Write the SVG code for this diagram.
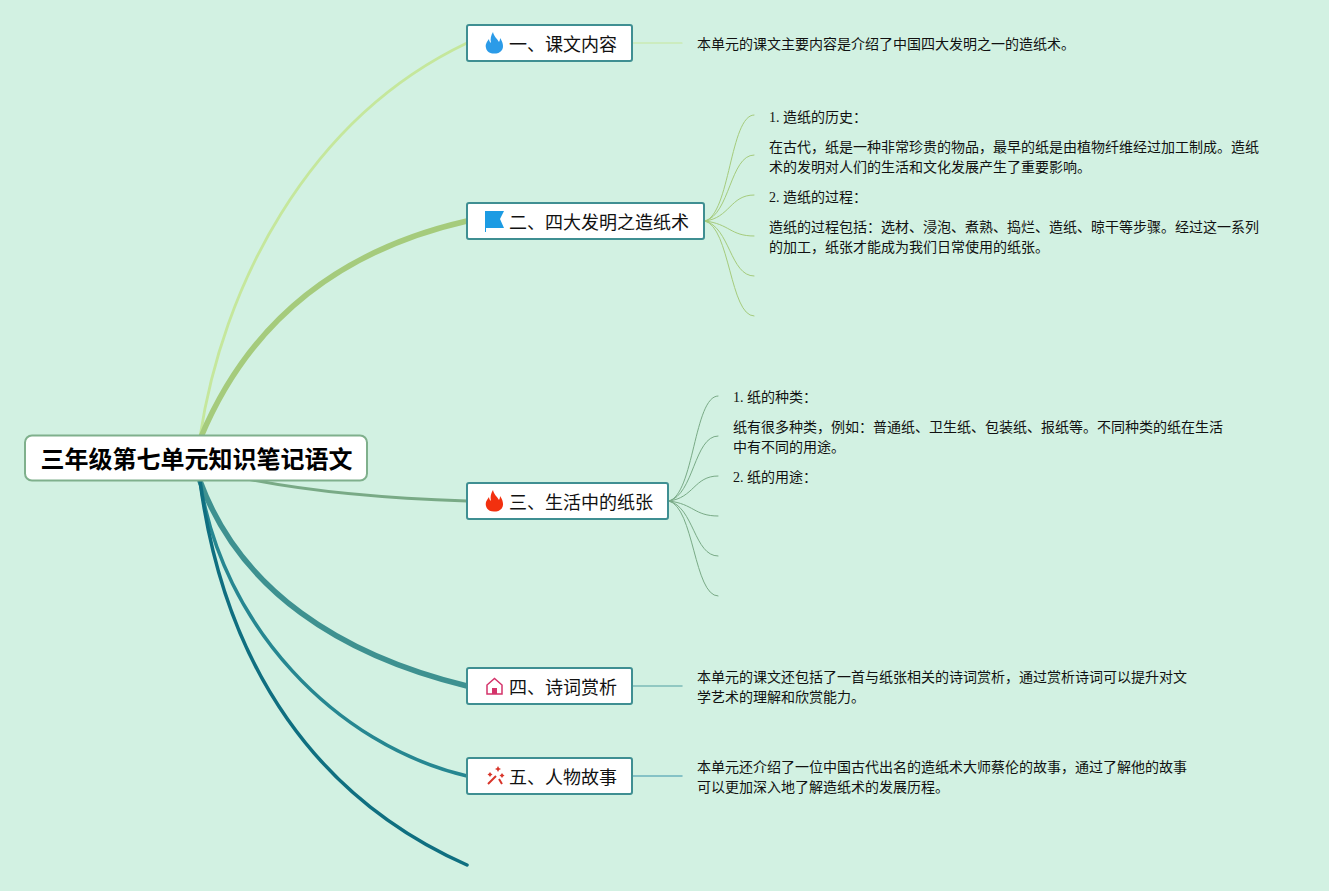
<svg xmlns="http://www.w3.org/2000/svg" width="1329" height="891" viewBox="0 0 1329 891">
<style>
text{font-family:"Liberation Serif","Noto Sans CJK SC",serif;fill:#111}
.b{font-size:14px}
.t{font-size:18px}
.r{font-size:24px;font-weight:700;fill:#000;font-family:"Liberation Sans","Noto Sans CJK SC",sans-serif}
.n{fill:#fff;stroke:#3f8f92;stroke-width:2}
.c{fill:none;stroke-linecap:round}
</style>
<rect width="1329" height="891" fill="#d2f1e2"/>
<g id="connectors" class="c">
<path d="M200 437C222 290 305 120 467 43" stroke="#c5e79c" stroke-width="2.800"/>
<path d="M201 437C250 320 340 250 467 221" stroke="#a5cb7c" stroke-width="5.500"/>
<path d="M220 473C290 490 370 498 467 501" stroke="#79aa86" stroke-width="3"/>
<path d="M200 481C240 590 340 655 467 686" stroke="#3e9190" stroke-width="5.500"/>
<path d="M200 481C222 625 335 745 467 776" stroke="#268791" stroke-width="3.500"/>
<path d="M200 481C225 670 320 800 467 865" stroke="#0f6f80" stroke-width="3.500"/>
<path d="M633 43H682" stroke="#c5e79c" stroke-width="1.200"/>
<path d="M633 686H682" stroke="#7cbab8" stroke-width="1.500"/>
<path d="M633 776H682" stroke="#6cb2bd" stroke-width="1.500"/>
<g stroke="#a5cb7c" stroke-width="1">
<path d="M705 221C730 215 730 115 754 115"/>
<path d="M705 221C730 215 730 155 754 155"/>
<path d="M705 221C730 218 730 195 754 195"/>
<path d="M705 221C730 224 730 236 754 236"/>
<path d="M705 221C730 227 730 276 754 276"/>
<path d="M705 221C730 227 730 316 754 316"/>
</g>
<g stroke="#79aa86" stroke-width="1">
<path d="M669 501C694 495 694 396 718 396"/>
<path d="M669 501C694 495 694 436 718 436"/>
<path d="M669 501C694 498 694 476 718 476"/>
<path d="M669 501C694 504 694 516 718 516"/>
<path d="M669 501C694 507 694 556 718 556"/>
<path d="M669 501C694 507 694 596 718 596"/>
</g>
</g>
<g id="root"><rect x="25" y="435.500" width="342" height="45" rx="7" fill="#fff" stroke="#7fb08c" stroke-width="2"/><text class="r" x="40.500" y="468">三年级第七单元知识笔记语文</text></g>
<g id="n1"><rect class="n" x="467" y="25" width="165" height="36" rx="2"/>
<path d="M493 32C494 37 497 38 499 42C500 40 500 39 500 38C503 42 504 47 502 50C500 53 497 53.500 494 53.500C490 53.500 487 52 486 48C485 44 487 42 489 39C489 41 490 42 491 43C490 39 491 35 493 32Z" fill="#2b9be8"/>
<text class="t" x="509" y="51">一、课文内容</text></g>
<text class="b" x="697" y="49">本单元的课文主要内容是介绍了中国四大发明之一的造纸术。</text>
<g id="n2"><rect class="n" x="467" y="203" width="237" height="36" rx="2"/>
<path d="M485 211H504L500 219L504 228H486V232H485Z" fill="#1c9be3"/>
<text class="t" x="509" y="229">二、四大发明之造纸术</text></g>
<g id="b2"><text class="b" x="769" y="122">1. 造纸的历史：</text>
<text class="b" x="769" y="152">在古代，纸是一种非常珍贵的物品，最早的纸是由植物纤维经过加工制成。造纸</text>
<text class="b" x="769" y="172">术的发明对人们的生活和文化发展产生了重要影响。</text>
<text class="b" x="769" y="202">2. 造纸的过程：</text>
<text class="b" x="769" y="232">造纸的过程包括：选材、浸泡、煮熟、捣烂、造纸、晾干等步骤。经过这一系列</text>
<text class="b" x="769" y="252">的加工，纸张才能成为我们日常使用的纸张。</text></g>
<g id="n3"><rect class="n" x="467" y="483" width="201" height="36" rx="2"/>
<path d="M493 490C494 495 497 496 499 500C500 498 500 497 500 496C503 500 504 505 502 508C500 511 497 511.500 494 511.500C490 511.500 487 510 486 506C485 502 487 500 489 497C489 499 490 500 491 501C490 497 491 493 493 490Z" fill="#f2300f"/>
<text class="t" x="509" y="509">三、生活中的纸张</text></g>
<g id="b3"><text class="b" x="733" y="402">1. 纸的种类：</text>
<text class="b" x="733" y="432">纸有很多种类，例如：普通纸、卫生纸、包装纸、报纸等。不同种类的纸在生活</text>
<text class="b" x="733" y="452">中有不同的用途。</text>
<text class="b" x="733" y="482">2. 纸的用途：</text></g>
<g id="n4"><rect class="n" x="467" y="668" width="165" height="36" rx="2"/>
<path d="M487 694V685L494.500 678.500L502 685V694Z" fill="none" stroke="#d4336a" stroke-width="1.500"/><rect x="492" y="688" width="5" height="6" fill="#d4336a"/>
<text class="t" x="509" y="694">四、诗词赏析</text></g>
<g id="b4"><text class="b" x="697" y="682">本单元的课文还包括了一首与纸张相关的诗词赏析，通过赏析诗词可以提升对文</text>
<text class="b" x="697" y="702">学艺术的理解和欣赏能力。</text></g>
<g id="n5"><rect class="n" x="467" y="758" width="165" height="36" rx="2"/>
<path d="M488 784L496 776M499 779L502 784" stroke="#d8352a" stroke-width="2" fill="none"/><path d="M498 766l1 2 2 1-2 1-1 2-1-2-2-1 2-1zM502 773l1 1.500 1.500 1-1.500 1-1 1.500-1-1.500-1.500-1 1.500-1zM490 772l1 1.500 1.500 1-1.500 1-1 1.500-1-1.500-1.500-1 1.500-1z" fill="#d8352a"/>
<text class="t" x="509" y="784">五、人物故事</text></g>
<g id="b5"><text class="b" x="697" y="772">本单元还介绍了一位中国古代出名的造纸术大师蔡伦的故事，通过了解他的故事</text>
<text class="b" x="697" y="792">可以更加深入地了解造纸术的发展历程。</text></g>
</svg>
